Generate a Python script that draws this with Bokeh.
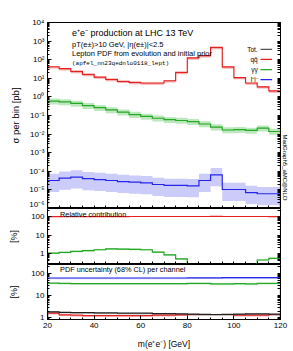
import math
from bokeh.plotting import figure
from bokeh.layouts import column
from bokeh.models import (LogAxis, FixedTicker, CustomJSTickFormatter, Label, Range1d, Title)
from bokeh.embed import file_html
from bokeh.resources import INLINE

# ---------------- data ----------------
BIN_EDGES = [20, 25, 30, 35, 40, 45, 50, 55, 60, 65, 70, 75, 80, 85, 90, 95, 100, 105, 110, 115, 120]

# cross section per bin [pb]
XS_QQ = [41.7, 33.1, 23.4, 16.2, 11.7, 8.7, 6.9, 6.0, 5.6, 5.6,
         7.4, 20.9, 126.0, 166.0, 457.0, 40.7, 11.0, 5.6, 3.5, 2.1]
XS_AA = [0.589, 0.537, 0.447, 0.339, 0.263, 0.200, 0.151, 0.112, 0.089, 0.071,
         0.060, 0.054, 0.047, 0.035, 0.024, 0.0166, 0.0174, 0.0158, 0.0209, 0.0138]
XS_LL = [3.2e-5, 4.3e-5, 4.9e-5, 4.0e-5, 3.6e-5, 3.2e-5, 2.8e-5, 2.6e-5, 2.4e-5, 1.95e-5,
         1.74e-5, 1.74e-5, 1.66e-5, 3.2e-5, 6.5e-5, 1.05e-5, 1.05e-5, 7.2e-6, 6.2e-6, 6.2e-6]
# band factors (lower, upper)
BAND_QQ = (0.80, 1.03)
BAND_AA = (0.66, 1.40)
BAND_LL = (0.24, 2.30)

# relative contribution [%]
REL_QQ = [98.6, 98.9, 99.0, 99.1, 99.2, 99.3, 99.3, 99.4, 99.4, 99.5,
          99.6, 99.7, 99.9, 99.95, 99.99, 99.9, 99.8, 99.6, 99.4, 99.3]
REL_AA = [1.05, 1.15, 1.30, 1.45, 1.60, 1.80, 1.75, 1.70, 1.60, 1.20,
          0.85, 0.52, 0.04, 0.02, 0.005, 0.04, 0.15, 0.20, 0.45, 0.55]

# PDF uncertainty per channel [%]
UNC_TOT = [1.85, 1.75, 1.70, 1.70, 1.65, 1.65, 1.60, 1.60, 1.60, 1.55,
           1.55, 1.50, 1.45, 1.42, 1.40, 1.42, 1.45, 1.50, 1.50, 1.45]
UNC_QQ = [1.60, 1.35, 1.30, 1.25, 1.25, 1.25, 1.25, 1.25, 1.25, 1.30,
          1.30, 1.35, 1.40, 1.40, 1.40, 1.40, 1.30, 1.30, 1.30, 1.40]
UNC_AA = [37, 36, 35, 35, 35, 35, 35, 35, 35, 35,
          35, 35, 36, 36, 34, 34, 35, 34, 36, 36]
UNC_LL = [63, 63, 63, 63, 63, 63, 63, 63, 63, 63,
          63, 63, 64, 64, 64, 65, 65, 65, 65, 65]

LEGEND_LABELS = ["Tot.", "qq\u0304", "\u03b3\u03b3", "l\u207al\u207b"]

X_MAJOR = [20, 40, 60, 80, 100, 120]
X_MINOR = [25, 30, 35, 45, 50, 55, 65, 70, 75, 85, 90, 95, 105, 110, 115]

# ---------------- style ----------------
FONT = "Liberation Sans"
MONO = "Liberation Mono"
RED, RED_B = "#e62020", "#f3a3a3"
GRN, GRN_B = "#22a822", "#b6e4b6"
BLU, BLU_B = "#2424ee", "#c6c6fa"
BLK, BLK_B = "#222222", "#b0b0b0"
GRAY = "#555555"

W = 293
ML, MR = 47, 13


def step_xy(vals, floor):
    xs, ys = [BIN_EDGES[0]], [floor]
    for i, v in enumerate(vals):
        xs += [BIN_EDGES[i], BIN_EDGES[i + 1]]
        ys += [v, v]
    xs.append(BIN_EDGES[-1])
    ys.append(floor)
    return xs, ys


def band_xy(vals, lo, hi):
    xs, y1, y2 = [], [], []
    for i, v in enumerate(vals):
        xs += [BIN_EDGES[i], BIN_EDGES[i + 1]]
        y1 += [v * lo, v * lo]
        y2 += [v * hi, v * hi]
    return xs, y1, y2


def decade_minor(k0, k1):
    return [m * 10.0 ** k for k in range(k0, k1) for m in range(2, 10)]


sup_js = """
const e = Math.round(Math.log10(tick));
const m = {"-":"\\u207b","0":"\\u2070","1":"\\u00b9","2":"\\u00b2","3":"\\u00b3","4":"\\u2074",
           "5":"\\u2075","6":"\\u2076","7":"\\u2077","8":"\\u2078","9":"\\u2079"};
return "10" + String(e).split("").map(c => m[c]).join("");
"""
plain_js = "return String(Math.round(tick));"


def style_axis(ax, size="8px"):
    ax.major_tick_in = 4
    ax.major_tick_out = 0
    ax.minor_tick_in = 2
    ax.minor_tick_out = 0
    ax.axis_line_color = "black"
    ax.major_tick_line_color = "black"
    ax.minor_tick_line_color = "black"
    ax.major_label_text_font = FONT
    ax.major_label_text_font_size = size
    ax.major_label_text_color = "black"
    ax.axis_label_text_font = FONT
    ax.axis_label_text_font_style = "normal"
    ax.axis_label_text_color = "black"


def hide_labels(ax, majors, minors):
    # tick marks only: every position drawn as a (label-less) minor tick
    ax.ticker = FixedTicker(ticks=[], minor_ticks=list(majors) + list(minors))
    ax.minor_tick_in = 3
    ax.minor_tick_out = 0
    ax.major_tick_in = 0
    ax.major_tick_out = 0
    ax.major_label_standoff = 0


xr = Range1d(20, 120)


def make_fig(height, yr, yticks, yminor, fmt_js, top, bottom, ylabel, ylabel_size, ylabel_standoff, show_x):
    p = figure(width=W, height=height, x_range=xr, y_range=yr, y_axis_type="log",
               output_backend="svg", toolbar_location=None,
               min_border_left=ML, min_border_right=MR, min_border_top=top, min_border_bottom=bottom)
    p.xgrid.visible = False
    p.ygrid.visible = False
    p.outline_line_color = "black"
    p.background_fill_color = "white"
    p.border_fill_color = "white"
    fmt = CustomJSTickFormatter(code=fmt_js)
    p.yaxis.ticker = FixedTicker(ticks=yticks, minor_ticks=yminor)
    p.yaxis.formatter = fmt
    for ax in p.yaxis:
        style_axis(ax, "8px")
        ax.major_label_standoff = 3
        ax.axis_label = ylabel
        ax.axis_label_text_font_size = ylabel_size
        ax.axis_label_standoff = ylabel_standoff
    ra = LogAxis()
    style_axis(ra, "8px")
    hide_labels(ra, yticks, yminor)
    p.add_layout(ra, "right")
    for ax in p.xaxis:
        style_axis(ax, "8px")
        if show_x:
            ax.ticker = FixedTicker(ticks=X_MAJOR, minor_ticks=X_MINOR)
            ax.major_label_standoff = 3
            ax.axis_label = "m(e\u207ae\u207b) [GeV]"
            ax.axis_label_text_font_size = "8.5px"
            ax.axis_label_standoff = 8
        else:
            hide_labels(ax, X_MAJOR, X_MINOR)
    return p


# ---------------- main panel ----------------
p1 = make_fig(208, Range1d(1e-6, 1e4), [10.0 ** k for k in range(-6, 5)], decade_minor(-6, 4),
              sup_js, 22, 0, "\u03c3 per bin [pb]", "9.5px", 5, False)
FLOOR = 1e-9
for vals, band, bcol in [(XS_QQ, BAND_QQ, RED_B), (XS_AA, BAND_AA, GRN_B), (XS_LL, BAND_LL, BLU_B)]:
    bx, b1, b2 = band_xy(vals, *band)
    p1.varea(x=bx, y1=b1, y2=b2, fill_color=bcol, fill_alpha=0.9)
for vals, col in [(XS_QQ, RED), (XS_AA, GRN), (XS_LL, BLU)]:
    sx, sy = step_xy(vals, FLOOR)
    p1.line(sx, sy, line_color=col, line_width=1.2, line_join="miter")

txt = [("e\u207ae\u207b production at LHC 13 TeV", 10 ** 3.42, "9px", FONT),
       ("pT(e\u00b1)>10 GeV, |\u03b7(e\u00b1)|<2.5", 10 ** 2.83, "7.5px", FONT),
       ("Lepton PDF from evolution and initial prior", 10 ** 2.33, "7.5px", FONT),
       ("(apfel_nn23qednlo0118_lept)", 10 ** 1.81, "6px", MONO)]
for t, yy, fs, ff in txt:
    p1.add_layout(Label(x=30.5, y=yy, text=t, text_font=ff, text_font_size=fs,
                        text_baseline="middle", text_color="black"))

leg_cols = [GRAY, RED, GRN, BLU]
for k, (lab, c) in enumerate(zip(LEGEND_LABELS, leg_cols)):
    yy = 10 ** (2.56 - 0.545 * k)
    p1.add_layout(Label(x=110.2, y=yy, text=lab, text_font=FONT, text_font_size="6.5px",
                        text_align="right", text_baseline="middle", text_color="black"))
    p1.segment(x0=[111.4], x1=[116.4], y0=[yy], y1=[yy], line_color=c, line_width=1.2)

p1.add_layout(Title(text="MadGraph5_aMC@NLO", align="right", offset=8, standoff=2,
                    text_font=FONT, text_font_size="6px", text_font_style="normal",
                    text_color="black"), "right")

# ---------------- relative contribution ----------------
p2 = make_fig(56, Range1d(10 ** -0.59, 10 ** 2.43), [1, 10, 100], decade_minor(-1, 3),
              plain_js, 0, 0, "[%]", "9px", 9, False)
bx, b1, b2 = band_xy(REL_AA, 0.9, 1.1)
p2.varea(x=bx, y1=b1, y2=b2, fill_color=GRN_B, fill_alpha=0.9)
for vals, col in [(REL_AA, GRN), (REL_QQ, RED)]:
    sx, sy = step_xy(vals, 1e-4)
    p2.line(sx, sy, line_color=col, line_width=1.2, line_join="miter")
p2.add_layout(Label(x=25.4, y=10 ** 2.12, text="Relative contribution", text_font=FONT,
                    text_font_size="7.3px", text_baseline="middle", text_color="black"))

# ---------------- PDF uncertainty ----------------
p3 = make_fig(87, Range1d(10 ** -0.08, 10 ** 2.41), [1, 10, 100], decade_minor(-1, 3),
              plain_js, 0, 31, "[%]", "9px", 9, True)
for vals, bcol in [(UNC_LL, BLU_B), (UNC_AA, GRN_B), (UNC_QQ, RED_B), (UNC_TOT, BLK_B)]:
    bx, b1, b2 = band_xy(vals, 0.88, 1.03)
    p3.varea(x=bx, y1=b1, y2=b2, fill_color=bcol, fill_alpha=0.8)
for vals, col in [(UNC_LL, BLU), (UNC_AA, GRN), (UNC_QQ, RED), (UNC_TOT, BLK)]:
    sx, sy = step_xy(vals, 1e-3)
    p3.line(sx, sy, line_color=col, line_width=1.2, line_join="miter")
p3.add_layout(Label(x=25.4, y=10 ** 2.17, text="PDF uncertainty (68% CL) per channel", text_font=FONT,
                    text_font_size="7.3px", text_baseline="middle", text_color="black"))

layout = column(p1, p2, p3, spacing=0)
open("out.html", "w").write(file_html(layout, INLINE))
